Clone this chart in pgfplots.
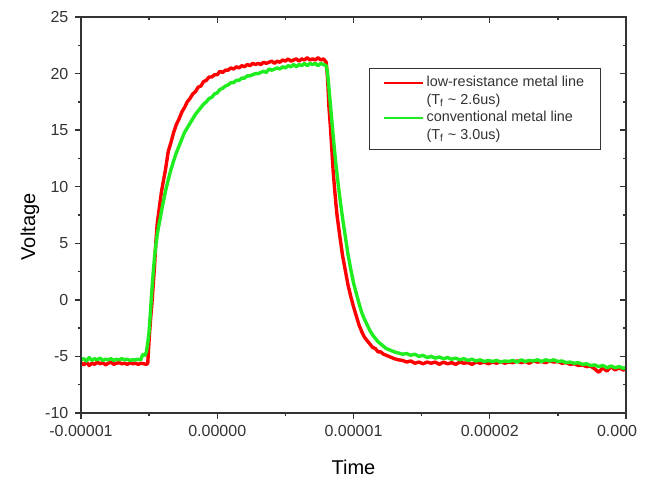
\documentclass[border=0pt]{standalone}
\usepackage{fontspec}
\setmainfont{Liberation Sans}
\usepackage{pgfplots}
\pgfplotsset{compat=1.18}
\definecolor{myred}{rgb}{1,0,0}
\definecolor{mygreen}{rgb}{0.12,0.93,0.12}
\definecolor{axgray}{rgb}{0.2,0.2,0.2}
\begin{document}
\begin{tikzpicture}
\begin{axis}[
  scale only axis,
  width=272.5pt, height=198pt,
  xmin=-10, xmax=30, ymin=-10, ymax=25,
  xtick={-10,0,10,20,30},
  xticklabels={-0.00001,0.00000,0.00001,0.00002,{0.000\phantom{03}}},
  ytick={-10,-5,0,5,10,15,20,25},
  minor x tick num=1, minor y tick num=1,
  xtick pos=left, ytick pos=left,
  tick align=outside,
  major tick length=2.8pt, minor tick length=1.5pt,
  axis line style={axgray, line width=0.7pt},
  every tick/.style={axgray, line width=0.7pt},
  /pgf/number format/assume math mode=true,
  tick label style={font=\fontsize{8}{9.6}\selectfont, text=axgray},
  label style={font=\fontsize{9}{10.8}\selectfont, text=axgray},
  xlabel={Time}, ylabel={Voltage},
  every axis x label/.style={at={(axis description cs:0.5,-0.136)},anchor=center},
  every axis y label/.style={at={(axis description cs:-0.0936,0.47)},rotate=90,anchor=center},
  legend cell align=left,
  legend image code/.code={\draw[#1, line width=1.1pt] (0pt,0pt) -- (19.5pt,0pt);},
  legend style={at={(0.528,0.871)}, anchor=north west, draw=axgray, line width=0.6pt,
    font=\fontsize{7.2}{9.3}\selectfont, text=axgray,
    inner xsep=7pt, inner ysep=2.8pt, row sep=0pt,
    nodes={inner sep=1pt}},
]
\coordinate (SW) at (rel axis cs:0,0);
\coordinate (NE) at (rel axis cs:1,1);
\addplot[color=myred, line width=1.7pt, line join=round] coordinates {
(-10,-5.55) (-9.8,-5.75) (-9.6,-5.5) (-9.4,-5.8) (-9.2,-5.6) (-9.0,-5.7) (-8.8,-5.5) (-8.6,-5.65) (-8.4,-5.55) (-8.2,-5.75)
(-8.0,-5.6) (-7.8,-5.5) (-7.6,-5.7) (-7.4,-5.6) (-7.2,-5.55) (-7.0,-5.65) (-6.8,-5.6) (-6.6,-5.7) (-6.4,-5.55) (-6.2,-5.65)
(-6.0,-5.6) (-5.8,-5.7) (-5.6,-5.6) (-5.4,-5.65) (-5.2,-5.7) (-5.1,-5.6)
(-5.0,-3.5) (-4.9,-1.8) (-4.8,-0.4) (-4.7,1.3) (-4.6,3.0) (-4.5,5.2) (-4.4,6.8) (-4.3,7.7) (-4.2,8.6) (-4.1,9.5)
(-4.0,10.2) (-3.8,11.5) (-3.6,13.1) (-3.4,13.9) (-3.2,14.8) (-3.0,15.5) (-2.8,16.0) (-2.6,16.6) (-2.4,17.0) (-2.2,17.5)
(-2.0,17.8) (-1.8,18.2) (-1.6,18.4) (-1.4,18.8) (-1.2,18.9) (-1.0,19.3) (-0.8,19.4) (-0.6,19.7) (-0.4,19.7) (-0.2,19.9)
(0.0,19.9) (0.2,20.2) (0.4,20.1) (0.6,20.3) (0.8,20.3) (1.0,20.5) (1.2,20.4) (1.4,20.6) (1.6,20.5) (1.8,20.7)
(2.0,20.6) (2.2,20.8) (2.4,20.7) (2.6,20.9) (2.8,20.8) (3.0,20.9) (3.2,20.8) (3.4,21.0) (3.6,20.9) (3.8,21.0)
(4.0,21.1) (4.2,20.9) (4.4,21.1) (4.6,21.0) (4.8,21.2) (5.0,21.1) (5.2,21.3) (5.4,21.1) (5.6,21.2) (5.8,21.3)
(6.0,21.1) (6.2,21.3) (6.4,21.2) (6.6,21.4) (6.8,21.2) (7.0,21.3) (7.2,21.2) (7.4,21.4) (7.6,21.2) (7.8,21.3) (8.0,21.0)
(8.1,19.5) (8.2,17.0) (8.3,15.4) (8.4,13.5) (8.5,11.5) (8.6,10.0) (8.7,8.6) (8.8,7.4) (8.9,6.5) (9.0,5.6)
(9.2,3.9) (9.4,2.6) (9.6,1.3) (9.8,0.3) (10.0,-0.6) (10.2,-1.4) (10.4,-2.2) (10.6,-2.8) (10.8,-3.3) (11.0,-3.6)
(11.2,-3.9) (11.4,-4.2) (11.6,-4.3) (11.8,-4.6) (12.0,-4.6) (12.2,-4.8) (12.4,-4.9) (12.6,-5.0) (12.8,-5.1) (13.0,-5.2)
(13.3,-5.3) (13.6,-5.35) (13.9,-5.5) (14.2,-5.4) (14.5,-5.6) (14.8,-5.5) (15.1,-5.65) (15.4,-5.5) (15.7,-5.6) (16.0,-5.5)
(16.3,-5.7) (16.6,-5.5) (16.9,-5.65) (17.2,-5.55) (17.5,-5.7) (17.8,-5.5) (18.1,-5.6) (18.4,-5.55) (18.7,-5.7) (19.0,-5.5)
(19.3,-5.6) (19.6,-5.5) (19.9,-5.65) (20.2,-5.5) (20.5,-5.6) (20.8,-5.45) (21.1,-5.6) (21.4,-5.5) (21.7,-5.55) (22.0,-5.4)
(22.3,-5.55) (22.6,-5.45) (22.9,-5.6) (23.2,-5.4) (23.5,-5.5) (23.8,-5.45) (24.1,-5.55) (24.4,-5.4) (24.7,-5.5) (25.0,-5.45)
(25.3,-5.6) (25.6,-5.55) (25.9,-5.7) (26.2,-5.65) (26.5,-5.8) (26.8,-5.75) (27.1,-5.9) (27.4,-5.85) (27.7,-6.1) (28.0,-6.4)
(28.3,-6.0) (28.6,-6.3) (28.9,-5.9) (29.2,-6.2) (29.5,-6.0) (29.8,-6.2) (30.0,-6.1)
};
\addlegendentry{low-resistance metal line}
\addlegendimage{empty legend}
\addlegendentry{(T\textsubscript{f} \textasciitilde{} 2.6us)}
\addplot[color=mygreen, line width=1.7pt, line join=round] coordinates {
(-10,-5.3) (-9.8,-5.2) (-9.6,-5.4) (-9.4,-5.1) (-9.2,-5.35) (-9.0,-5.2) (-8.8,-5.3) (-8.6,-5.15) (-8.4,-5.35) (-8.2,-5.25)
(-8.0,-5.3) (-7.8,-5.2) (-7.6,-5.35) (-7.4,-5.25) (-7.2,-5.3) (-7.0,-5.2) (-6.8,-5.3) (-6.6,-5.25) (-6.4,-5.35) (-6.2,-5.3)
(-6.0,-5.3) (-5.8,-5.25) (-5.6,-5.3) (-5.5,-4.9) (-5.4,-4.8) (-5.3,-4.9) (-5.2,-4.6) (-5.1,-3.8)
(-5.0,-2.8) (-4.9,-1.0) (-4.8,0.8) (-4.7,2.4) (-4.6,3.8) (-4.5,4.9) (-4.4,5.8) (-4.3,6.5) (-4.2,7.1) (-4.1,7.8)
(-4.0,8.4) (-3.8,9.6) (-3.6,10.6) (-3.4,11.5) (-3.2,12.3) (-3.0,13.0) (-2.8,13.6) (-2.6,14.2) (-2.4,14.8) (-2.2,15.2)
(-2.0,15.6) (-1.8,16.0) (-1.6,16.4) (-1.4,16.7) (-1.2,17.0) (-1.0,17.3) (-0.8,17.5) (-0.6,17.8) (-0.4,17.9) (-0.2,18.2)
(0.0,18.3) (0.2,18.6) (0.4,18.7) (0.6,18.9) (0.8,19.0) (1.0,19.2) (1.2,19.2) (1.4,19.4) (1.6,19.4) (1.8,19.6)
(2.0,19.6) (2.2,19.8) (2.4,19.8) (2.6,19.9) (2.8,20.0) (3.0,20.0) (3.2,20.1) (3.4,20.2) (3.6,20.1) (3.8,20.4)
(4.0,20.3) (4.2,20.4) (4.4,20.5) (4.6,20.4) (4.8,20.6) (5.0,20.5) (5.2,20.7) (5.4,20.6) (5.6,20.8) (5.8,20.6)
(6.0,20.8) (6.2,20.7) (6.4,20.9) (6.6,20.7) (6.8,20.9) (7.0,20.8) (7.2,20.9) (7.4,20.7) (7.6,20.9) (7.8,20.8) (8.0,20.7)
(8.1,20.0) (8.2,18.7) (8.3,17.3) (8.4,16.0) (8.5,14.6) (8.6,13.3) (8.7,12.1) (8.8,11.0) (8.9,10.0) (9.0,9.0)
(9.2,7.2) (9.4,5.6) (9.6,4.0) (9.8,2.7) (10.0,1.5) (10.2,0.6) (10.4,-0.3) (10.6,-1.1) (10.8,-1.7) (11.0,-2.2)
(11.2,-2.7) (11.4,-3.1) (11.6,-3.4) (11.8,-3.7) (12.0,-3.9) (12.2,-4.1) (12.4,-4.3) (12.6,-4.4) (12.8,-4.5) (13.0,-4.6)
(13.3,-4.7) (13.6,-4.8) (13.9,-4.75) (14.2,-4.9) (14.5,-4.8) (14.8,-5.0) (15.1,-4.9) (15.4,-5.1) (15.7,-5.0) (16.0,-5.15)
(16.3,-5.05) (16.6,-5.2) (16.9,-5.1) (17.2,-5.25) (17.5,-5.15) (17.8,-5.3) (18.1,-5.2) (18.4,-5.35) (18.7,-5.25) (19.0,-5.4)
(19.3,-5.3) (19.6,-5.45) (19.9,-5.35) (20.2,-5.45) (20.5,-5.35) (20.8,-5.5) (21.1,-5.4) (21.4,-5.45) (21.7,-5.35) (22.0,-5.5)
(22.3,-5.3) (22.6,-5.45) (22.9,-5.35) (23.2,-5.4) (23.5,-5.3) (23.8,-5.45) (24.1,-5.3) (24.4,-5.4) (24.7,-5.3) (25.0,-5.45)
(25.3,-5.4) (25.6,-5.55) (25.9,-5.5) (26.2,-5.6) (26.5,-5.55) (26.8,-5.7) (27.1,-5.65) (27.4,-5.8) (27.7,-5.75) (28.0,-5.9)
(28.3,-5.8) (28.6,-6.0) (28.9,-5.85) (29.2,-6.0) (29.5,-5.9) (29.8,-6.05) (30.0,-6.0)
};
\addlegendentry{conventional metal line}
\addlegendimage{empty legend}
\addlegendentry{(T\textsubscript{f} \textasciitilde{} 3.0us)}
\end{axis}
\begin{axis}[
  scale only axis,
  width=272.5pt, height=198pt,
  xmin=-10, xmax=30, ymin=-10, ymax=25,
  xtick={-10,0,10,20,30},
  ytick={-10,-5,0,5,10,15,20,25},
  minor x tick num=1, minor y tick num=1,
  xtick pos=right, ytick pos=right,
  tick align=inside,
  major tick length=2.8pt, minor tick length=1.5pt,
  xticklabels={}, yticklabels={},
  axis line style={axgray, line width=0.7pt},
  every tick/.style={axgray, line width=0.7pt},
]
\end{axis}
\pgfresetboundingbox
\path ([shift={(-40.5pt,-32pt)}]SW) rectangle ([shift={(11.5pt,8.5pt)}]NE);
\end{tikzpicture}
\end{document}
